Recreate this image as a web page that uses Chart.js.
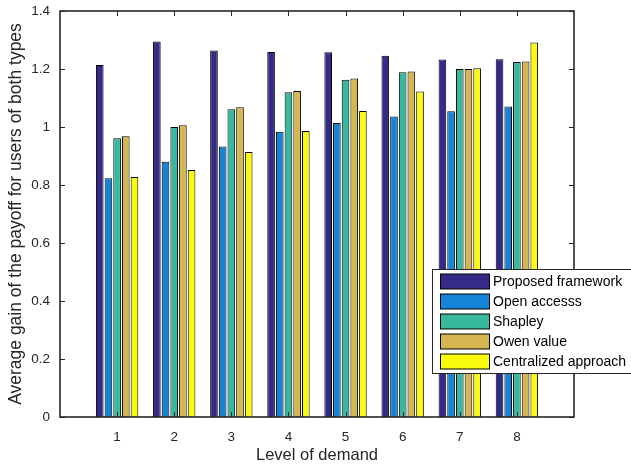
<!DOCTYPE html>
<html>
<head>
<meta charset="utf-8">
<script src="https://cdn.jsdelivr.net/npm/chart.js@4.4.0/dist/chart.umd.min.js"></script>
<style>
  html, body { margin: 0; padding: 0; background: #fff; }
  #wrap { width: 631px; height: 469px; }
</style>
</head>
<body>
<div id="wrap"><canvas id="gainChart" width="631" height="469"></canvas></div>
<script>
// x positions 0..9, only 1..8 carry bars (MATLAB-style padding at both ends)
const levels = ['0', '1', '2', '3', '4', '5', '6', '7', '8', '9'];
const yTicks = [0, 0.2, 0.4, 0.6, 0.8, 1, 1.2, 1.4];

const proposed    = [null, 1.214, 1.295, 1.264, 1.259, 1.258, 1.246, 1.233, 1.234, null];
const openAccess  = [null, 0.823, 0.880, 0.933, 0.984, 1.014, 1.036, 1.054, 1.071, null];
const shapley     = [null, 0.961, 1.000, 1.061, 1.120, 1.163, 1.189, 1.200, 1.224, null];
const owen        = [null, 0.968, 1.006, 1.068, 1.124, 1.167, 1.191, 1.200, 1.226, null];
const centralized = [null, 0.828, 0.852, 0.914, 0.986, 1.055, 1.122, 1.203, 1.291, null];

const names  = ['Proposed framework', 'Open accesss', 'Shapley', 'Owen value', 'Centralized approach'];
const colors = ['#352A87', '#1583D6', '#38B89E', '#D5B752', '#F9FA0F'];
const series = [proposed, openAccess, shapley, owen, centralized];

const font = 'Arial, "Liberation Sans", Helvetica, sans-serif';
const axisColor = '#262626';

// box around the axes with inward ticks on all four sides
const matlabBox = {
  id: 'matlabBox',
  afterDatasetsDraw(chart) {
    const { ctx, chartArea: a, scales } = chart;
    ctx.save();
    ctx.strokeStyle = axisColor;
    ctx.lineWidth = 1;
    const len = 5;
    ctx.beginPath();
    scales.y.ticks.forEach(t => {
      const y = Math.round(scales.y.getPixelForValue(t.value)) + 0.5;
      ctx.moveTo(a.left, y); ctx.lineTo(a.left + len, y);
      ctx.moveTo(a.right, y); ctx.lineTo(a.right - len, y);
    });
    for (let i = 1; i <= 8; i++) {
      const x = Math.round(scales.x.getPixelForValue(i)) + 0.5;
      ctx.moveTo(x, a.bottom); ctx.lineTo(x, a.bottom - len);
      ctx.moveTo(x, a.top); ctx.lineTo(x, a.top + len);
    }
    ctx.stroke();
    ctx.lineWidth = 1.6;
    ctx.strokeRect(a.left, a.top, a.right - a.left, a.bottom - a.top);
    ctx.restore();
  }
};

// legend box inside the axes, bottom right
const boxLegend = {
  id: 'boxLegend',
  afterDraw(chart) {
    const { ctx } = chart;
    const x0 = 432, y0 = 269, w = 205, rowH = 20;
    ctx.save();
    ctx.fillStyle = '#fff';
    ctx.fillRect(x0, y0, w, 104);
    ctx.strokeStyle = axisColor;
    ctx.lineWidth = 1;
    ctx.strokeRect(x0 + 0.5, y0 + 0.5, w, 104);
    ctx.font = '14px ' + font;
    ctx.textBaseline = 'middle';
    chart.data.datasets.forEach((ds, i) => {
      const cy = y0 + 12.5 + i * rowH;
      ctx.fillStyle = ds.backgroundColor;
      ctx.fillRect(440.5, cy - 7.5, 49, 15);
      ctx.strokeStyle = '#000';
      ctx.strokeRect(440.5, cy - 7.5, 49, 15);
      ctx.fillStyle = '#000';
      ctx.fillText(ds.label, 493, cy + 1);
    });
    ctx.restore();
  }
};

new Chart(document.getElementById('gainChart'), {
  type: 'bar',
  data: {
    labels: levels,
    datasets: series.map((d, i) => ({
      label: names[i],
      data: d,
      backgroundColor: colors[i],
      borderColor: '#000',
      borderWidth: 1,
      borderSkipped: 'bottom',
      barPercentage: 0.88,
      categoryPercentage: 0.76
    }))
  },
  options: {
    responsive: false,
    animation: false,
    layout: { padding: { top: 11, right: 57, left: 0, bottom: 0 } },
    plugins: { legend: { display: false }, tooltip: { enabled: false } },
    scales: {
      x: {
        offset: false,
        grid: { display: false, drawTicks: false },
        border: { display: false },
        ticks: {
          color: axisColor,
          font: { family: font, size: 13.5 },
          padding: 12,
          maxRotation: 0,
          autoSkip: false,
          callback: (v, i) => (i === 0 || i === levels.length - 1) ? '' : levels[i]
        },
        title: {
          display: true,
          text: 'Level of demand',
          color: axisColor,
          font: { family: font, size: 16.5 },
          padding: { top: 6 }
        },
        afterFit: s => { s.height = 52; s.paddingLeft = 0; s.paddingRight = 0; }
      },
      y: {
        min: 0,
        max: 1.4,
        afterBuildTicks: s => { s.ticks = yTicks.map(v => ({ value: v })); },
        grid: { display: false, drawTicks: false },
        border: { display: false },
        ticks: {
          color: axisColor,
          font: { family: font, size: 13.5 },
          padding: 10,
          callback: v => String(Math.round(v * 10) / 10)
        },
        title: {
          display: true,
          text: 'Average gain of the payoff for users of both types',
          color: axisColor,
          font: { family: font, size: 17.5 },
          padding: { top: 6, bottom: 4 }
        },
        afterFit: s => { s.width = 60; s.paddingTop = 0; s.paddingBottom = 0; }
      }
    }
  },
  plugins: [matlabBox, boxLegend]
});
</script>
</body>
</html>
